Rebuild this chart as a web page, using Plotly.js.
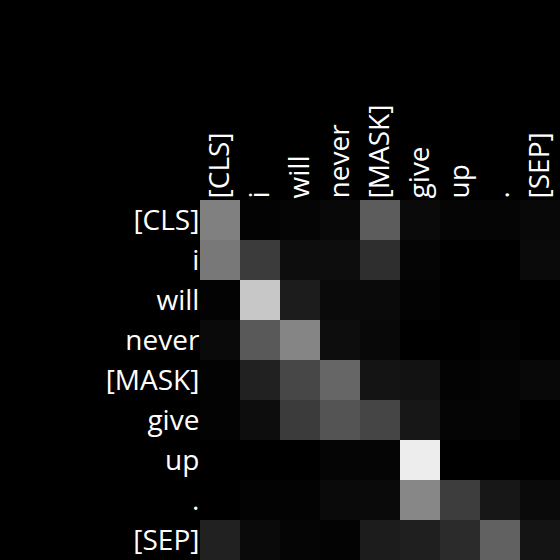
<!DOCTYPE html>
<html>
<head>
<meta charset="utf-8">
<script src="https://cdn.plot.ly/plotly-3.0.1.min.js"></script>
<style>
  html, body { margin: 0; padding: 0; background: #000; }
  #chart { width: 560px; height: 560px; }
</style>
</head>
<body>
<div id="chart"></div>
<script>
// tokens, rows = query, cols = key
const tokens = ['[CLS]', 'i', 'will', 'never', '[MASK]', 'give', 'up', '.', '[SEP]'];

// attention weights (0 = black, 1 = white)
const rowCLS   = [0.50, 0.01, 0.02, 0.03, 0.36, 0.04, 0.02, 0.02, 0.03];
const rowI     = [0.47, 0.23, 0.05, 0.05, 0.18, 0.02, 0.00, 0.00, 0.04];
const rowWill  = [0.01, 0.78, 0.11, 0.04, 0.04, 0.01, 0.00, 0.00, 0.00];
const rowNever = [0.04, 0.35, 0.52, 0.05, 0.03, 0.00, 0.00, 0.01, 0.00];
const rowMask  = [0.01, 0.13, 0.28, 0.40, 0.08, 0.07, 0.01, 0.02, 0.03];
const rowGive  = [0.01, 0.05, 0.23, 0.33, 0.27, 0.09, 0.02, 0.02, 0.00];
const rowUp    = [0.00, 0.00, 0.00, 0.02, 0.02, 0.93, 0.00, 0.00, 0.00];
const rowDot   = [0.00, 0.01, 0.01, 0.04, 0.04, 0.53, 0.24, 0.09, 0.04];
const rowSep   = [0.13, 0.04, 0.02, 0.01, 0.11, 0.12, 0.17, 0.38, 0.08];

const z = [rowCLS, rowI, rowWill, rowNever, rowMask, rowGive, rowUp, rowDot, rowSep];

const FONT = 'Open Sans, Noto Sans, sans-serif';

const trace = {
  type: 'heatmap', z: z, x: tokens, y: tokens,
  zmin: 0, zmax: 1,
  colorscale: [[0, '#000000'], [1, '#ffffff']],
  showscale: false, xgap: 0, ygap: 0,
  hovertemplate: '%{y} → %{x}: %{z:.2f}<extra></extra>'
};

const layout = {
  width: 560, height: 560,
  paper_bgcolor: '#000', plot_bgcolor: '#000',
  margin: {l: 200, r: 0, t: 200, b: 0, pad: 0},
  font: {family: FONT, color: '#ffffff', size: 28},
  xaxis: {side: 'top', tickangle: -90, ticklen: 0, showgrid: false, zeroline: false,
          showline: false, type: 'category', ticklabelstandoff: -5,
          tickfont: {size: 28, color: '#fff'}},
  yaxis: {autorange: 'reversed', ticklen: 0, showgrid: false, zeroline: false,
          showline: false, type: 'category', ticklabelstandoff: -6,
          tickfont: {size: 28, color: '#fff'}}
};

Plotly.newPlot('chart', [trace], layout, {displayModeBar: false, staticPlot: true});
</script>
</body>
</html>
